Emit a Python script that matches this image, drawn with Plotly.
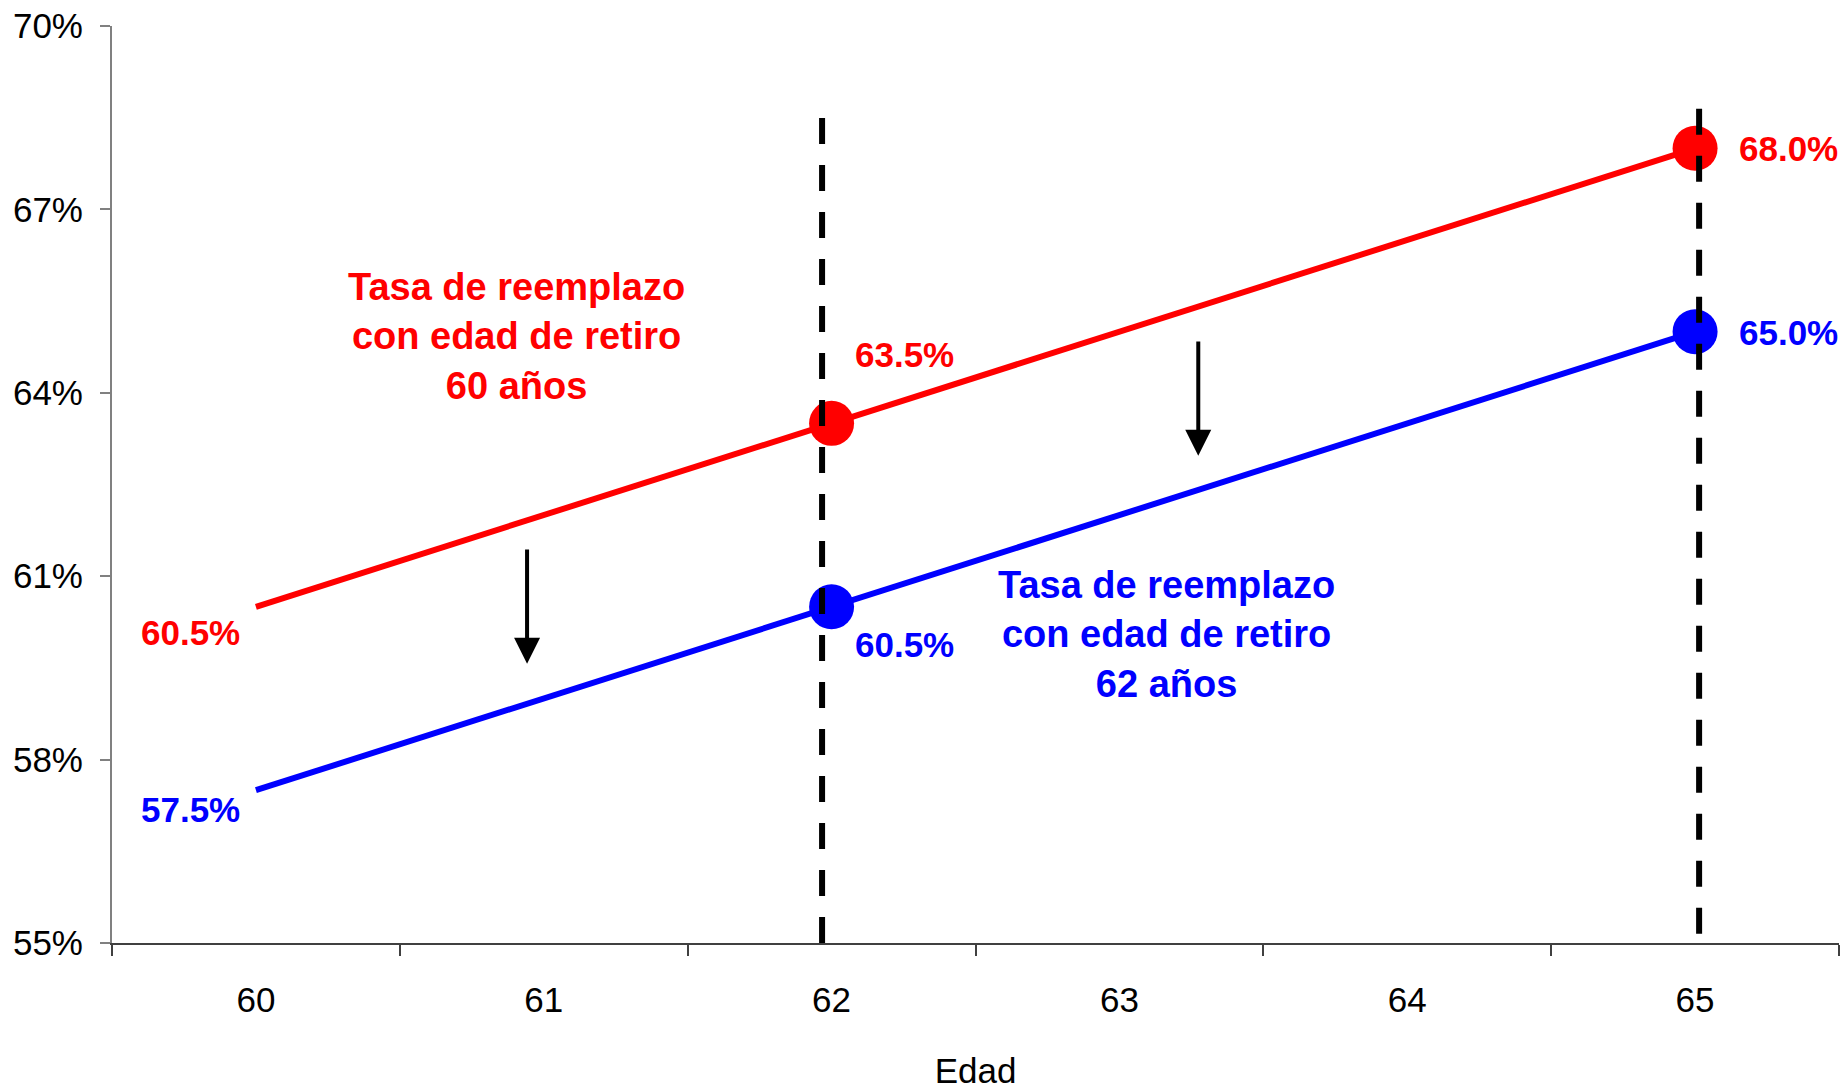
import plotly.graph_objects as go

# ---- data ----
ages = [60, 62, 65]
tasa_retiro_60 = [60.5, 63.5, 68.0]
tasa_retiro_62 = [57.5, 60.5, 65.0]
marker_sizes = [0, 45, 45]
age_ticks = [60, 61, 62, 63, 64, 65]
age_tick_text = ["60", "61", "62", "63", "64", "65"]
age_boundaries = [59.5, 60.5, 61.5, 62.5, 63.5, 64.5, 65.5]
pct_ticks = [55, 58, 61, 64, 67, 70]
pct_tick_text = ["55%", "58%", "61%", "64%", "67%", "70%"]

guide_x = [61.967, 65.014]
guide_top = [68.53, 68.85]
guide_bottom = [55.0, 55.15]

label_60_x = [59.771, 62.252, 65.324]
label_60_y = [60.086, 64.62, 68.0]
label_60_text = ["60.5%", "63.5%", "68.0%"]
label_62_x = [59.771, 62.252, 65.324]
label_62_y = [57.186, 59.89, 64.986]
label_62_text = ["57.5%", "60.5%", "65.0%"]

title_60 = "Tasa de reemplazo<br>con edad de retiro<br>60 años"
title_60_pos = (60.904, 64.913)
title_62 = "Tasa de reemplazo<br>con edad de retiro<br>62 años"
title_62_pos = (63.164, 60.054)

arrow_x = [60.942, 63.274]
arrow_from = [61.463, 64.865]
arrow_to = [59.568, 62.97]

FONT = "Liberation Sans, Arial, sans-serif"
RED = "#FF0000"
BLUE = "#0000FF"

fig = go.Figure()

fig.add_trace(go.Scatter(
    x=ages, y=tasa_retiro_60, mode="lines+markers",
    line=dict(color=RED, width=6),
    marker=dict(size=marker_sizes, color=RED, opacity=1, line=dict(width=0)),
    hoverinfo="skip", showlegend=False))
fig.add_trace(go.Scatter(
    x=ages, y=tasa_retiro_62, mode="lines+markers",
    line=dict(color=BLUE, width=6),
    marker=dict(size=marker_sizes, color=BLUE, opacity=1, line=dict(width=0)),
    hoverinfo="skip", showlegend=False))

for gx, gt, gb in zip(guide_x, guide_top, guide_bottom):
    fig.add_trace(go.Scatter(
        x=[gx, gx], y=[gb, gt], mode="lines",
        line=dict(color="black", width=6, dash="26px,21px"),
        hoverinfo="skip", showlegend=False))

annotations = []
for xs, ys, ts, col in [(label_60_x, label_60_y, label_60_text, RED),
                        (label_62_x, label_62_y, label_62_text, BLUE)]:
    for x, y, t in zip(xs, ys, ts):
        annotations.append(dict(x=x, y=y, xref="x", yref="y", text="<b>%s</b>" % t,
                                showarrow=False, xanchor="center", yanchor="middle",
                                font=dict(family=FONT, size=35, color=col)))

for txt, pos, col in [(title_60, title_60_pos, RED), (title_62, title_62_pos, BLUE)]:
    annotations.append(dict(x=pos[0], y=pos[1], xref="x", yref="y", text="<b>%s</b>" % txt,
                            showarrow=False, xanchor="center", yanchor="middle", align="center",
                            font=dict(family=FONT, size=38, color=col)))

for ax_, a_from, a_to in zip(arrow_x, arrow_from, arrow_to):
    annotations.append(dict(x=ax_, y=a_to, ax=ax_, ay=a_from, xref="x", yref="y",
                            axref="x", ayref="y", text="", showarrow=True,
                            arrowhead=2, arrowsize=1.3, arrowwidth=4, arrowcolor="black",
                            standoff=0, startstandoff=0))

fig.update_layout(
    width=1843, height=1090,
    margin=dict(l=112, r=4, t=26, b=138),
    paper_bgcolor="white", plot_bgcolor="white",
    font=dict(family=FONT, size=35, color="black"),
    showlegend=False,
    annotations=annotations,
    xaxis=dict(
        range=[59.5, 65.5], tickvals=age_ticks, ticktext=age_tick_text,
        ticks="", showgrid=False, zeroline=False,
        showline=True, linecolor="#404040", linewidth=2,
        ticklabelstandoff=25,
        tickfont=dict(family=FONT, size=35, color="black"),
        minor=dict(tickvals=age_boundaries, ticks="outside", ticklen=11,
                   tickcolor="#404040", tickwidth=2, showgrid=False),
        title=dict(text="Edad", font=dict(family=FONT, size=35, color="black"), standoff=42),
        fixedrange=True),
    yaxis=dict(
        range=[55, 70], tickvals=pct_ticks, ticktext=pct_tick_text,
        ticks="outside", ticklen=10, tickcolor="#808080", tickwidth=2,
        showgrid=False, zeroline=False,
        showline=True, linecolor="#808080", linewidth=2,
        ticklabelstandoff=10,
        tickfont=dict(family=FONT, size=35, color="black"),
        fixedrange=True),
)

fig.write_html("out.html",
               config={"displayModeBar": False},
               post_script="document.body.style.margin='0';document.body.style.overflow='hidden';")
